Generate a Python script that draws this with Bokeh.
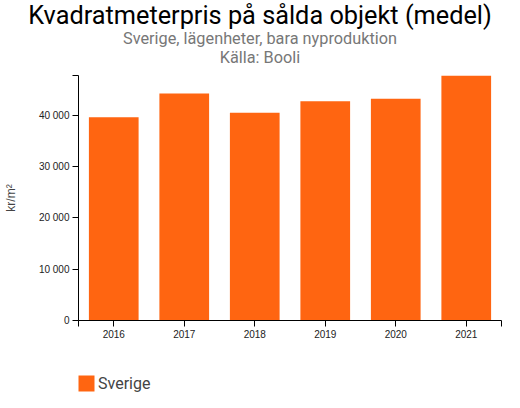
from bokeh.plotting import figure
from bokeh.embed import file_html
from bokeh.resources import INLINE
from bokeh.layouts import column
from bokeh.models import (Range1d, LinearAxis, FixedTicker, Div,
                          Legend, LegendItem)

# data
years = ["2016", "2017", "2018", "2019", "2020", "2021"]
prices = [39630, 44220, 40500, 42730, 43220, 47750]
y_ticks = [0, 10000, 20000, 30000, 40000]
y_tick_labels = ["0", "10 000", "20 000", "30 000", "40 000"]

title_text = "Kvadratmeterpris på sålda objekt (medel)"
subtitle_lines = ["Sverige, lägenheter, bara nyproduktion", "Källa: Booli"]
series_name = "Sverige"
y_label = "kr/m²"

bar_color = "#ff6511"
tick_font = "Liberation Sans"
text_font = "Roboto"

# header: title and two subtitle lines
line_css = ("position:absolute;left:0;width:520px;text-align:center;"
            "line-height:1;white-space:nowrap;font-family:Roboto;")
head_html = ('<div style="position:relative;width:520px;height:75px">'
             f'<div style="{line_css}top:3px;font-size:25.3px;color:#000">{title_text}</div>'
             f'<div style="{line_css}top:31px;font-size:16.3px;color:#777">{subtitle_lines[0]}</div>'
             f'<div style="{line_css}top:49.6px;font-size:16.3px;color:#777">{subtitle_lines[1]}</div>'
             '</div>')
head = Div(text=head_html, width=520, height=75, margin=0)

# bands on a numeric index axis so the outer ticks at both ends can be drawn
n = len(years)
centers = [i + 0.5 for i in range(n)]

p = figure(width=520, height=285, output_backend="svg", toolbar_location=None,
           x_range=Range1d(0, n), y_range=Range1d(0, max(prices)),
           x_axis_type=None, y_axis_type=None,
           min_border_left=75, min_border_right=19,
           min_border_top=0, min_border_bottom=40)
p.outline_line_color = None

x_ticks = [0] + centers + [n]
x_over = {0: "", n: ""}
x_over.update(dict(zip(centers, years)))
xaxis = LinearAxis(ticker=FixedTicker(ticks=x_ticks), major_label_overrides=x_over)
xaxis.minor_tick_line_color = None
xaxis.major_tick_in = 0
xaxis.major_tick_out = 6
xaxis.major_label_standoff = 3
xaxis.major_label_text_font = tick_font
xaxis.major_label_text_font_size = "10px"
xaxis.major_label_text_color = "#222222"
xaxis.axis_line_color = "black"
xaxis.major_tick_line_color = "black"
p.add_layout(xaxis, "below")

y_over = dict(zip(y_ticks, y_tick_labels))
y_over[max(prices)] = ""
yaxis = LinearAxis(ticker=FixedTicker(ticks=y_ticks + [max(prices)]),
                   major_label_overrides=y_over, axis_label=y_label)
yaxis.minor_tick_line_color = None
yaxis.major_tick_in = 0
yaxis.major_tick_out = 6
yaxis.major_label_standoff = 3
yaxis.major_label_text_font = tick_font
yaxis.major_label_text_font_size = "10px"
yaxis.major_label_text_color = "#222222"
yaxis.axis_label_text_font = tick_font
yaxis.axis_label_text_font_size = "12px"
yaxis.axis_label_text_font_style = "normal"
yaxis.axis_label_standoff = 18
yaxis.axis_line_color = "black"
yaxis.major_tick_line_color = "black"
p.add_layout(yaxis, "left")

p.xgrid.visible = False
p.ygrid.ticker = FixedTicker(ticks=y_ticks[1:])
p.ygrid.grid_line_color = "#ececec"
p.ygrid.grid_line_width = 2

p.vbar(x=centers, top=prices, width=0.705, color=bar_color, line_color=None)

# legend strip under the chart, its frame lined up with the chart's frame
foot = figure(width=520, height=48, output_backend="svg", toolbar_location=None,
              x_range=Range1d(0, 1), y_range=Range1d(0, 1),
              x_axis_type=None, y_axis_type=None,
              min_border_left=75, min_border_right=19,
              min_border_top=0, min_border_bottom=0)
foot.outline_line_color = None
foot.grid.visible = False
# zero-height proxy bar, only there to give the legend its swatch colour
swatch = foot.vbar(x=[0.5], top=[0], width=0.1, color=bar_color, line_color=None)
legend = Legend(items=[LegendItem(label=series_name, renderers=[swatch])],
                location=(-2, 15), glyph_width=20, glyph_height=20,
                label_standoff=2, label_text_font=text_font,
                label_text_font_size="16px", label_height=20,
                padding=0, margin=0, border_line_color=None,
                background_fill_alpha=0)
foot.add_layout(legend)

layout = column(head, p, foot, spacing=0)
open("out.html", "w").write(file_html(layout, INLINE))
